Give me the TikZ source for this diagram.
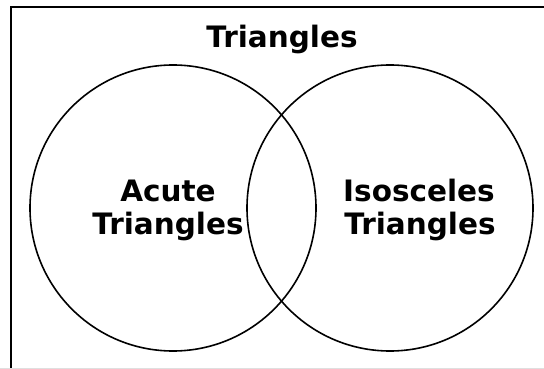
\documentclass[tikz,border=0pt]{standalone}
\usepackage{fontspec}
\setmainfont{DejaVu Sans}
\begin{document}
\begin{tikzpicture}[x=1pt,y=-1pt,
  setcircle/.style={draw=black,line width=1.6pt,circle,minimum size=286pt,inner sep=0pt},
  lbl/.style={font=\bfseries\fontsize{29.5}{35}\selectfont,anchor=base,inner sep=0pt}]
\useasboundingbox (0,0) rectangle (544,369);
\fill[white] (0,0) rectangle (544,369);
\draw[line width=2.4pt] (11,369) -- (11,7) -- (544,7);
\draw[gray!25,line width=1pt] (0,368.5) -- (544,368.5);
\node[setcircle] (left) at (173,208) {};
\node[setcircle] (right) at (390,208) {};
\node[lbl] (title) at (282,48) {Triangles};
\node[lbl] (acute1) at (168,201) {Acute};
\node[lbl] (acute2) at (168,234) {Triangles};
\node[lbl] (iso1) at (419,201) {Isosceles};
\node[lbl] (iso2) at (420,234) {Triangles};
\end{tikzpicture}
\end{document}
